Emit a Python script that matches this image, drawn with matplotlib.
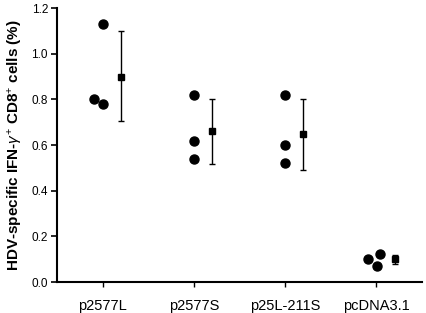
import matplotlib
matplotlib.use("Agg")
import matplotlib.pyplot as plt
import numpy as np

plt.rcParams["font.family"] = ["Liberation Sans", "DejaVu Sans"]
plt.rcParams["mathtext.fontset"] = "custom"
plt.rcParams["mathtext.rm"] = "Liberation Sans"
plt.rcParams["mathtext.it"] = "Liberation Sans:italic"
plt.rcParams["mathtext.bf"] = "Liberation Sans:bold"

groups = ["p2577L", "p2577S", "p25L-211S", "pcDNA3.1"]
# individual animals: (x offset from group centre, value)
dot_offsets = [[-0.09, 0.0, 0.0], [0.0, 0.0, 0.0], [0.0, 0.0, 0.0], [-0.09, 0.04, 0.01]]
dot_values = [[0.80, 1.13, 0.78], [0.82, 0.62, 0.54], [0.82, 0.60, 0.52], [0.099, 0.121, 0.07]]
means = [0.90, 0.66, 0.647, 0.099]
err_low = [0.705, 0.515, 0.49, 0.078]
err_high = [1.10, 0.80, 0.80, 0.12]

fig = plt.figure(figsize=(4.27, 3.13), dpi=100)
ax = fig.add_axes([0.1335, 0.099, 0.855, 0.875])

centres = np.arange(len(groups)) + 0.5
for c, offs, vals in zip(centres, dot_offsets, dot_values):
    ax.plot(c + np.array(offs), vals, "o", color="black", markersize=6.5, clip_on=False)

means = np.array(means)
yerr = [means - np.array(err_low), np.array(err_high) - means]
ax.errorbar(centres + 0.2, means, yerr=yerr, fmt="s", color="black", markersize=5,
            capsize=2.5, elinewidth=1.0, capthick=1.0)

ax.set_xlim(0, 4)
ax.set_ylim(0, 1.2)
ax.set_xticks(centres)
ax.set_xticklabels(groups, fontsize=10.5)
ax.set_yticks(np.arange(0, 1.21, 0.2))
ax.set_yticklabels([f"{v:.1f}" for v in np.arange(0, 1.21, 0.2)], fontsize=8.5)
ax.set_ylabel(r"HDV-specific IFN-$\gamma^{+}$ CD8$^{+}$ cells (%)", fontsize=11,
              fontweight="bold", labelpad=5)

for side in ["top", "right"]:
    ax.spines[side].set_visible(False)
for side in ["left", "bottom"]:
    ax.spines[side].set_linewidth(1.5)
ax.tick_params(axis="y", length=4.5, width=1.2, pad=2)
ax.tick_params(axis="x", length=3.5, width=1.0, pad=9)

fig.savefig("out.png", dpi=100)
